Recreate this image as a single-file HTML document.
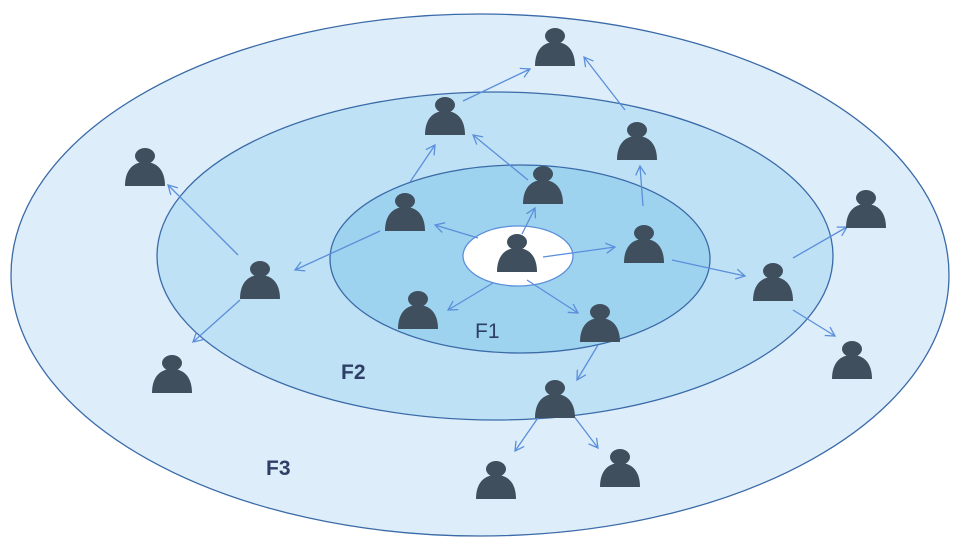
<!DOCTYPE html>
<html><head><meta charset="utf-8"><style>html,body{margin:0;padding:0;background:#fff}svg{display:block}</style></head><body>
<svg width="956" height="538" viewBox="0 0 956 538" xmlns="http://www.w3.org/2000/svg">
<defs>
<marker id="a" markerWidth="12" markerHeight="12" refX="10" refY="6" orient="auto" markerUnits="userSpaceOnUse">
<path d="M1,1 L10,6 L1,11" fill="none" stroke="#5b8fdc" stroke-width="1.3"/></marker>
<g id="p"><ellipse cx="0" cy="0" rx="10" ry="8" fill="#3f4f5e"/><path d="M-20,30 C-20,14 -12,6 0,6 C12,6 20,14 20,30 Z" fill="#3f4f5e"/></g>
</defs>
<ellipse cx="480" cy="275" rx="469" ry="261" fill="#ddeefa" stroke="#3a6aa8" stroke-width="1.3"/>
<ellipse cx="495" cy="256" rx="338" ry="164" fill="#bfe1f5" stroke="#3a6aa8" stroke-width="1.3"/>
<ellipse cx="520" cy="259" rx="190" ry="94" fill="#9dd3ef" stroke="#3a6aa8" stroke-width="1.3"/>
<ellipse cx="518" cy="256" rx="55" ry="30" fill="#fff" stroke="#5b8fdc" stroke-width="1.3"/>
<g stroke="#5b8fdc" stroke-width="1.3" fill="none" marker-end="url(#a)">
<line x1="543" y1="257" x2="615" y2="247"/>
<line x1="522" y1="234" x2="535" y2="208"/>
<line x1="478" y1="238" x2="435" y2="225"/>
<line x1="493" y1="283" x2="448" y2="310"/>
<line x1="527" y1="280" x2="578" y2="313"/>
<line x1="528" y1="180" x2="473" y2="135"/>
<line x1="410" y1="182" x2="435" y2="145"/>
<line x1="463" y1="101" x2="530" y2="69"/>
<line x1="625" y1="110" x2="584" y2="57"/>
<line x1="643" y1="206" x2="640" y2="166"/>
<line x1="380" y1="231" x2="295" y2="270"/>
<line x1="672" y1="260" x2="745" y2="276"/>
<line x1="238" y1="255" x2="168" y2="185"/>
<line x1="240" y1="300" x2="193" y2="342"/>
<line x1="793" y1="258" x2="847" y2="227"/>
<line x1="793" y1="310" x2="835" y2="336"/>
<line x1="598" y1="345" x2="577" y2="380"/>
<line x1="540" y1="415" x2="515" y2="451"/>
<line x1="573" y1="415" x2="598" y2="448"/>
</g>
<use href="#p" x="517" y="242"/>
<use href="#p" x="555" y="36"/>
<use href="#p" x="445" y="105"/>
<use href="#p" x="637" y="130"/>
<use href="#p" x="145" y="156"/>
<use href="#p" x="543" y="174"/>
<use href="#p" x="405" y="201"/>
<use href="#p" x="866" y="198"/>
<use href="#p" x="644" y="233"/>
<use href="#p" x="260" y="269"/>
<use href="#p" x="773" y="271"/>
<use href="#p" x="418" y="299"/>
<use href="#p" x="600" y="312"/>
<use href="#p" x="852" y="349"/>
<use href="#p" x="172" y="363"/>
<use href="#p" x="555" y="388"/>
<use href="#p" x="496" y="469"/>
<use href="#p" x="620" y="457"/>
<g font-family="Liberation Sans, sans-serif" font-size="21" fill="#2e3f66">
<text x="475" y="338">F1</text>
<text x="341" y="379" font-weight="bold">F2</text>
<text x="266" y="475" font-weight="bold">F3</text>
</g>
</svg>
</body></html>
